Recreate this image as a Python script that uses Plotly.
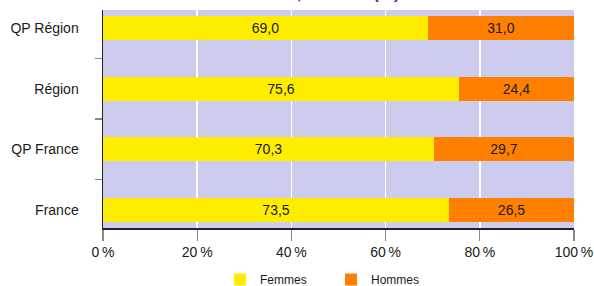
import plotly.graph_objects as go

categories = ["France", "QP France", "Région", "QP Région"]
femmes = [73.5, 70.3, 75.6, 69.0]
hommes = [26.5, 29.7, 24.4, 31.0]
tick_vals = [0, 20, 40, 60, 80, 100]
tick_text = ["0\u2009%", "20\u2009%", "40\u2009%", "60\u2009%", "80\u2009%", "100\u2009%"]
title_text = "Salariés selon le sexe, en 2020 (%)"

def fr(v):
    return f"{v:.1f}".replace(".", ",")

W, H = 594, 286
L, R, T, B = 103, 20, 10, 58
pw, ph = W - L - R, H - T - B

fig = go.Figure()
fig.add_trace(go.Bar(
    y=categories, x=femmes, orientation="h", name="Femmes",
    marker=dict(color="#FFED00", line=dict(width=0)),
    text=[fr(v) for v in femmes], textposition="inside", insidetextanchor="middle",
    textfont=dict(color="#1a1a1a", size=14), width=0.39, hoverinfo="skip",
))
fig.add_trace(go.Bar(
    y=categories, x=hommes, orientation="h", name="Hommes",
    marker=dict(color="#FF8000", line=dict(width=0)),
    text=[fr(v) for v in hommes], textposition="inside", insidetextanchor="middle",
    textfont=dict(color="#1a1a1a", size=14), width=0.39, hoverinfo="skip",
))
# invisible helper trace for boundary ticks axis
fig.add_trace(go.Scatter(x=[None], y=[None], yaxis="y2", showlegend=False, hoverinfo="skip"))

fig.update_layout(
    width=W, height=H, barmode="stack",
    margin=dict(l=L, r=R, t=T, b=B, pad=0, autoexpand=False),
    paper_bgcolor="white", plot_bgcolor="#CDCCEE",
    font=dict(family="Liberation Sans, Arial, sans-serif", size=14, color="#1a1a1a"),
    bargap=0,
    xaxis=dict(range=[0, 100], tickvals=tick_vals, ticktext=tick_text, automargin=False,
               showgrid=True, gridcolor="white", gridwidth=1.5, zeroline=False,
               showline=True, linecolor="#222222", linewidth=1.5,
               ticks="outside", ticklen=11, tickcolor="#888888", tickwidth=1.2,
               tickfont=dict(size=14, color="#1a1a1a"), fixedrange=True),
    yaxis=dict(categoryorder="array", categoryarray=categories, range=[-0.3, 3.3],
               automargin=False,
               showline=True, linecolor="#222222", linewidth=1.5, ticks="",
               showgrid=False, ticklabelstandoff=20, tickfont=dict(size=14, color="#1a1a1a")),
    yaxis2=dict(overlaying="y", side="left", range=[-0.3, 3.3], tickvals=[0.5, 1.5, 2.5],
                automargin=False,
                showticklabels=False, ticks="outside", ticklen=7, tickcolor="#888888",
                tickwidth=1.2, showgrid=False, zeroline=False, showline=False),
    legend=dict(orientation="h", x=(220 - L) / pw, xanchor="left", y=-(265 - (H - B)) / ph,
                yanchor="top", font=dict(size=12, color="#1a1a1a"),
                entrywidth=66, entrywidthmode="pixels", itemwidth=30,
                traceorder="normal", bgcolor="rgba(0,0,0,0)"),
    showlegend=True,
    annotations=[dict(text="<b>" + title_text + "</b>", xref="paper", yref="paper",
                      x=(402 - L) / pw, xanchor="right", y=1 + 5 / ph, yanchor="bottom",
                      showarrow=False, font=dict(size=17, color="#8B1A8B",
                                                 family="Liberation Sans, Arial, sans-serif"))],
)

fig.write_html("out.html", config={"displayModeBar": False, "staticPlot": True},
               post_script="document.body.style.margin='0';document.body.style.overflow='hidden';")
